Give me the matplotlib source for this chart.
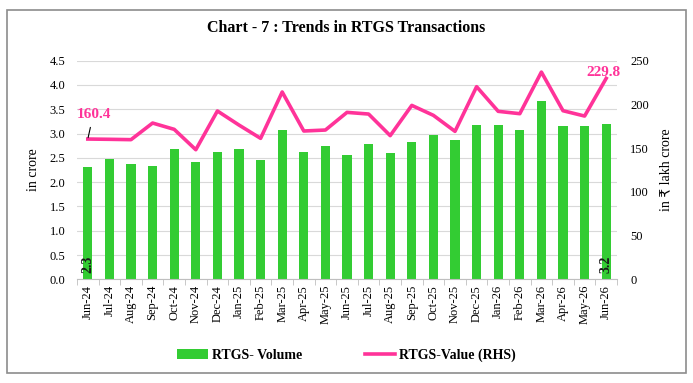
import matplotlib
matplotlib.use("Agg")
import matplotlib.pyplot as plt
import numpy as np
from matplotlib.patches import Rectangle

months = ['Jun-24', 'Jul-24', 'Aug-24', 'Sep-24', 'Oct-24', 'Nov-24', 'Dec-24',
          'Jan-25', 'Feb-25', 'Mar-25', 'Apr-25', 'May-25', 'Jun-25', 'Jul-25',
          'Aug-25', 'Sep-25', 'Oct-25', 'Nov-25', 'Dec-25', 'Jan-26', 'Feb-26',
          'Mar-26', 'Apr-26', 'May-26', 'Jun-26']
volume = [2.32, 2.48, 2.38, 2.34, 2.68, 2.41, 2.63, 2.68, 2.45, 3.07, 2.63, 2.75,
          2.56, 2.78, 2.60, 2.82, 2.97, 2.86, 3.18, 3.18, 3.07, 3.68, 3.16, 3.16, 3.20]
value = [160.4, 160.1, 159.7, 178.7, 171.5, 148.2, 192.5, 176.4, 161.2, 214.2, 169.6,
         170.7, 190.9, 189.0, 164.3, 198.9, 187.5, 169.2, 220.3, 192.1, 189.4, 237.0,
         192.8, 186.7, 229.8]

serif = ['Liberation Serif', 'DejaVu Serif']
green = '#33CC33'
pink = '#FF3399'

fig = plt.figure(figsize=(6.93, 3.83), dpi=100)
fig.patches.append(Rectangle((7/693, 1-373/383), 679/693, 363/383, transform=fig.transFigure,
                             fill=False, edgecolor='#8c8c8c', linewidth=1.2))

ax = fig.add_axes([77/693, 1-279.3/383, 540/693, 218.6/383])
x = np.arange(len(months))
bars = ax.bar(x, volume, width=0.43, color=green, label='RTGS- Volume', zorder=2)
ax.set_ylim(0, 4.5)
ax.set_xlim(-0.5, len(months)-0.5)
ax.set_yticks(np.arange(0, 4.51, 0.5))
ax.set_yticklabels([f'{v:.1f}' for v in np.arange(0, 4.51, 0.5)], family=serif, fontsize=9)
ax.set_xticks(x)
ax.set_xticklabels(months, rotation=90, family=serif, fontsize=9)
ax.set_xticks(np.arange(-0.5, len(months), 1), minor=True)
ax.tick_params(axis='x', which='major', length=0, pad=4)
ax.tick_params(axis='x', which='minor', length=4, color='#bfbfbf')
ax.tick_params(axis='y', length=0, pad=8.5)
ax.grid(axis='y', color='#d9d9d9', linewidth=0.8, zorder=0)
for s in ['top', 'right', 'left']:
    ax.spines[s].set_visible(False)
ax.spines['bottom'].set_color('#bfbfbf')
ax.set_ylabel('in crore', family=serif, fontsize=10)
ax.yaxis.set_label_coords(-0.068, 0.5)

ax.text(x[0], 0.12, f'{volume[0]:.1f}', rotation=90, ha='center', va='bottom',
        fontsize=10, fontweight='bold', color='#1a1a1a', family=serif, zorder=3)
ax.text(x[-1], 0.12, f'{volume[-1]:.1f}', rotation=90, ha='center', va='bottom',
        fontsize=10, fontweight='bold', color='#1a1a1a', family=serif, zorder=3)

ax2 = ax.twinx()
line, = ax2.plot(x, value, color=pink, linewidth=2.6, label='RTGS-Value (RHS)', zorder=3)
ax2.set_ylim(0, 250)
ax2.set_yticks(np.arange(0, 251, 50))
ax2.set_yticklabels([str(v) for v in range(0, 251, 50)], family=serif, fontsize=9)
ax2.tick_params(axis='y', length=0, pad=9.5)
for s in ['top', 'right', 'left', 'bottom']:
    ax2.spines[s].set_visible(False)
ax2.set_ylabel('in ₹ lakh crore', family=['Liberation Serif', 'DejaVu Sans'], fontsize=10)
ax2.yaxis.set_label_coords(1.078, 0.5)

ax2.annotate(f'{value[0]:.1f}', xy=(x[0], value[0]), xytext=(x[0]+0.27, 189),
             fontsize=11, fontweight='bold', color=pink, family=serif, ha='center', va='center',
             arrowprops=dict(arrowstyle='-', color='black', linewidth=0.8,
                             shrinkA=3, shrinkB=1, relpos=(0.45, 0)))
ax2.text(x[-1]-0.15, 236, f'{value[-1]:.1f}', fontsize=11, fontweight='bold', color=pink,
         family=serif, ha='center', va='center')

fig.suptitle('Chart - 7 : Trends in RTGS Transactions', y=1-28/383, va='center',
             fontsize=11.5, fontweight='bold', family=serif)
fig.legend(handles=[bars, line], loc='center', bbox_to_anchor=(0.5, 1-355/383), ncol=2,
           frameon=False, columnspacing=4.5, handlelength=2.2, handletextpad=0.3,
           prop={'family': serif, 'size': 10, 'weight': 'bold'})

fig.savefig('out.png', dpi=100)
